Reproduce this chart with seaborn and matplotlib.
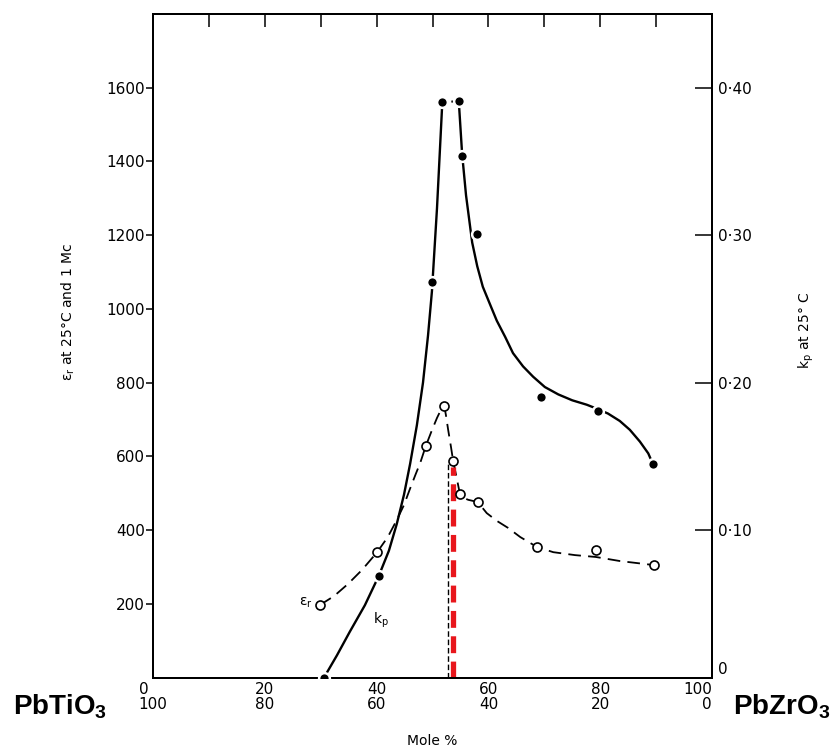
import matplotlib
matplotlib.use("Agg")
import matplotlib.pyplot as plt
import pandas as pd
import seaborn as sns

# measured points, x = mole % PbZrO3
KP_PTS_X = [30.6, 40.4, 49.9, 51.7, 54.7, 55.3, 58.0, 69.4, 79.6, 89.4]
KP_PTS_Y = [0.0, 0.069, 0.268, 0.390, 0.391, 0.354, 0.301, 0.190, 0.181, 0.145]
EPS_PTS_X = [29.9, 40.1, 48.8, 52.1, 53.7, 54.9, 58.1, 68.7, 79.2, 89.6]
EPS_PTS_Y = [197, 340, 628, 737, 587, 498, 476, 354, 346, 305]

# hand drawn curves
KP_LEFT_X = [30.6, 32.9, 35.2, 37.9, 40.4, 42.2, 43.6, 44.9, 46.0, 47.2, 48.3, 49.2,
             49.9, 50.8, 51.7]
KP_LEFT_Y = [0.0, 0.015, 0.031, 0.049, 0.069, 0.086, 0.104, 0.124, 0.145, 0.171, 0.200,
             0.232, 0.262, 0.318, 0.386]
KP_RIGHT_X = [54.7, 55.3, 56.0, 57.1, 58.0, 59.0, 60.3, 61.5, 63.0, 64.4, 66.2, 68.0,
              70.1, 72.5, 75.0, 77.6, 79.6, 81.4, 83.5, 85.3, 87.1, 88.6, 89.4]
KP_RIGHT_Y = [0.391, 0.355, 0.327, 0.295, 0.279, 0.265, 0.253, 0.242, 0.231, 0.220,
              0.211, 0.204, 0.197, 0.192, 0.188, 0.185, 0.182, 0.179, 0.174, 0.168,
              0.160, 0.152, 0.145]
EPS_CURVE_X = [29.9, 32.4, 34.9, 37.4, 40.1, 42.0, 43.6, 44.9, 45.9, 47.0, 47.8, 48.8,
               49.9, 50.8, 51.5, 52.1, 52.4, 52.8, 53.3, 53.7, 54.4, 54.9, 55.6, 56.4,
               58.1, 59.7, 61.5, 63.5, 65.7, 68.7, 71.6, 75.5, 79.2, 83.5, 89.6]
EPS_CURVE_Y = [197, 221, 254, 292, 340, 381, 427, 468, 509, 552, 582, 628,
               671, 704, 726, 737, 712, 672, 626, 587, 536, 498, 487, 482,
               476, 446, 425, 406, 381, 354, 340, 332, 327, 316, 305]

# morphotropic boundary markers
MPB_X, MPB_TOP = 52.8, 585
RED_X, RED_TOP = 53.6, 572

X_TOP = [0, 20, 40, 60, 80, 100]
EPS_TICKS = [200, 400, 600, 800, 1000, 1200, 1400, 1600]
KP_TICKS = [0, 0.10, 0.20, 0.30, 0.40]
KP_TICK_LABELS = ["0", "0·10", "0·20", "0·30", "0·40"]

sns.set_style("white")
plt.rcParams["font.family"] = ["DejaVu Sans"]
plt.rcParams.update({
    "text.color": "black", "axes.labelcolor": "black",
    "xtick.color": "black", "ytick.color": "black",
    "mathtext.fontset": "custom", "mathtext.rm": "DejaVu Sans",
    "mathtext.it": "DejaVu Sans:italic", "mathtext.bf": "Liberation Sans:bold",
})

fig = plt.figure(figsize=(8.33, 7.49), dpi=100)
ax = fig.add_axes([153 / 833, 71.5 / 749, 559 / 833, 663.5 / 749])
ax2 = ax.twinx()

eps_curve = pd.DataFrame({"x": EPS_CURVE_X, "y": EPS_CURVE_Y})
sns.lineplot(data=eps_curve, x="x", y="y", ax=ax, sort=False, estimator=None,
             color="black", lw=1.3)
ax.lines[-1].set_dashes((7, 4))

ax.vlines(MPB_X, 0, MPB_TOP, colors="black", lw=1.0, linestyles=(0, (4, 2)))
ax.vlines(RED_X, 0, RED_TOP, colors="#e8161c", lw=3.8, linestyles=(0, (3.2, 1.6)))

sns.scatterplot(x=EPS_PTS_X, y=EPS_PTS_Y, ax=ax, s=42, facecolor="white",
                edgecolor="black", linewidth=1.2, zorder=5)

for cx, cy in [(KP_LEFT_X, KP_LEFT_Y), (KP_RIGHT_X, KP_RIGHT_Y)]:
    sns.lineplot(x=cx, y=cy, ax=ax2, sort=False, estimator=None,
                 color="black", lw=1.7)
ax2.plot(KP_PTS_X[3:5], KP_PTS_Y[3:5], color="black", lw=1.5, ls=(0, (1, 3.5)))
sns.scatterplot(x=KP_PTS_X, y=KP_PTS_Y, ax=ax2, s=60, color="black",
                edgecolor="white", linewidth=1.8, zorder=5)

ax.set_xlim(0, 100)
ax.set_ylim(0, 1800)
ax2.set_ylim(0, 0.45)

ax.set_xticks(X_TOP)
ax.set_xticklabels([f"{v}\n{100 - v}" for v in X_TOP], fontsize=11, linespacing=1.0)
xlabels = ax.get_xticklabels()
xlabels[0].set_multialignment("left")
xlabels[-1].set_horizontalalignment("right")
ax.set_xticks(range(10, 100, 20), minor=True)
ax.tick_params(axis="x", which="both", direction="in", length=9, width=1.1,
               top=True, pad=3)
ax.set_yticks(EPS_TICKS)
ax.set_yticklabels([str(v) for v in EPS_TICKS], fontsize=11)
ax.tick_params(axis="y", direction="out", length=5, width=1.1, pad=1, left=True)

ax2.set_yticks(KP_TICKS)
ax2.set_yticklabels(KP_TICK_LABELS, fontsize=11)
ax2.get_yticklabels()[0].set_verticalalignment("bottom")
ax2.tick_params(axis="y", direction="in", length=12, width=1.1, pad=4, right=True)

for a in (ax, ax2):
    for sp in a.spines.values():
        sp.set_visible(True)
        sp.set_color("black")
        sp.set_linewidth(1.4)

ax.set_xlabel("Mole %", fontsize=10, labelpad=16)
ax.set_ylabel("")
ax2.set_ylabel("")

fig.text(68 / 833, 1 - 312 / 749, "ε$_{\\rm r}$ at 25°C and 1 Mc", rotation=90,
         fontsize=10, ha="center", va="center")
fig.text(806 / 833, 1 - 330 / 749, "k$_{\\rm p}$ at 25° C", rotation=90,
         fontsize=10, ha="center", va="center")

ax.text(28.6, 202, "ε$_{\\rm r}$", fontsize=10, ha="right", va="center")
ax.text(40.8, 156, "k$_{\\rm p}$", fontsize=10, ha="center", va="center")

fig.text(60 / 833, 1 - 707 / 749, r"$\mathbf{PbTiO_3}$", fontsize=20,
         ha="center", va="center")
fig.text(830 / 833, 1 - 707 / 749, r"$\mathbf{PbZrO_3}$", fontsize=20,
         ha="right", va="center")

fig.savefig("out.png", dpi=100, facecolor="white")
